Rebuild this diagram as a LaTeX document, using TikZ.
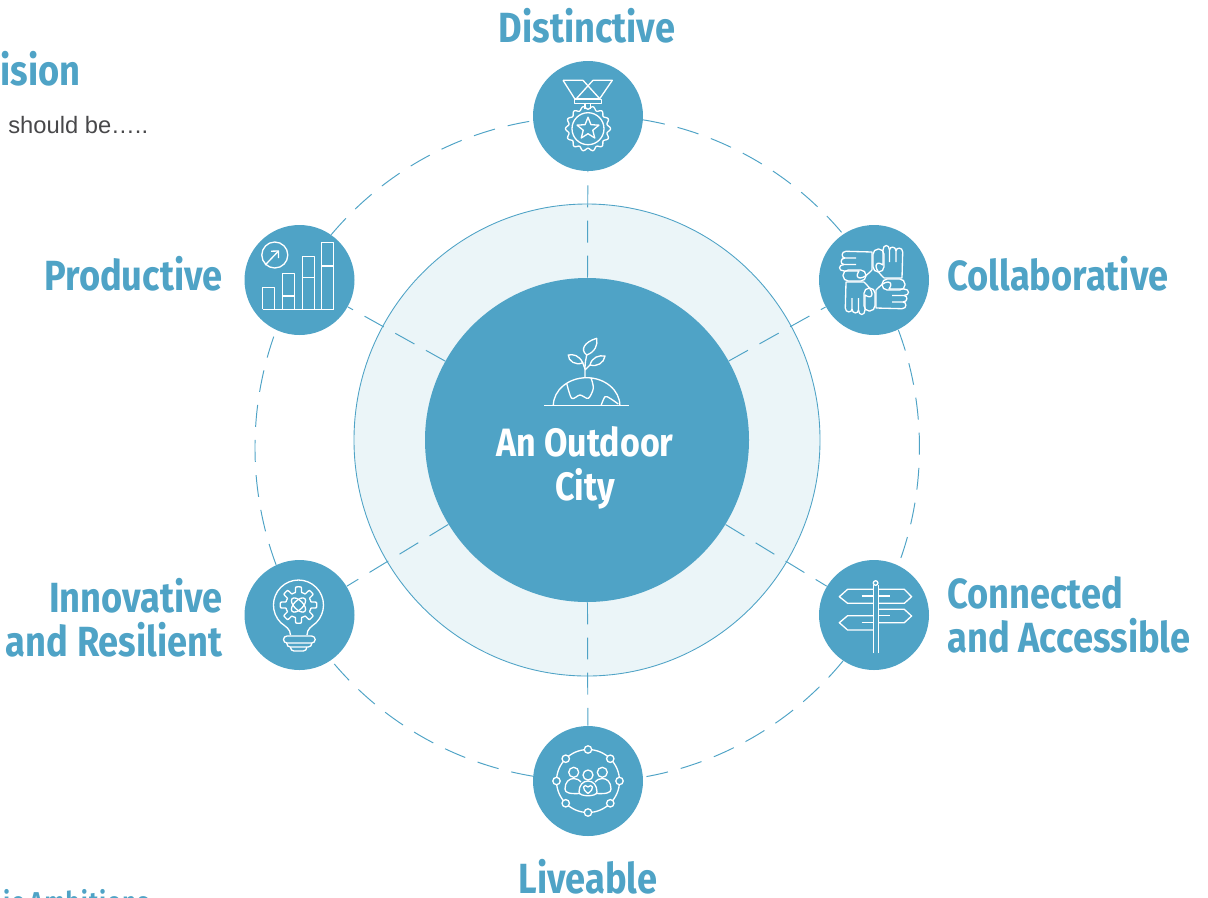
\documentclass[tikz,border=0pt]{standalone}
\usetikzlibrary{shapes.geometric}
\usepackage{fontspec}
\setmainfont{Liberation Sans}
\newfontfamily\lblfont[FakeStretch=0.86]{Fira Sans}
\newfontfamily\lblspaced[FakeStretch=0.86,LetterSpace=5]{Fira Sans}
\definecolor{teal}{HTML}{4FA3C6}
\definecolor{palering}{HTML}{EBF5F8}
\definecolor{bodytext}{HTML}{48484A}
\tikzset{
    circ/.style={circle, fill=teal, minimum size=22mm, inner sep=0pt},
    hubcirc/.style={circle, fill=teal, minimum size=64.8mm, inner sep=0pt},
    ringcirc/.style={ellipse, fill=palering, draw=teal, line width=0.5pt, minimum width=93.2mm, minimum height=94.4mm, inner sep=0pt},
    lnk/.style={teal, line width=0.55pt, dash pattern=on 12.5pt off 7.5pt},
    arcl/.style={lnk, bend left=20.5, looseness=0.879},
    lbl/.style={teal, inner sep=0pt, font=\lblfont\bfseries\fontsize{24}{25}\selectfont},
    ico/.style={white, line width=0.75pt, line join=round}
}
\newcommand{\handicon}{
        \draw[ico] (10,-2) .. controls (6,-6) and (2,-10) .. (2,-14) .. controls (2,-17) and (5,-18) .. (9,-15) -- (9,-30) .. controls (9,-36) and (15.5,-36) .. (15.5,-30) -- (15.5,-18);
        \draw[ico] (15.5,-30) .. controls (15.5,-34) and (22,-34) .. (22,-29) -- (22,-18);
        \draw[ico] (22,-29) .. controls (22,-33) and (28.7,-33) .. (28.7,-28) -- (28,-2) -- (10,-2);
        \draw[ico, rounded corners=3pt] (8,-1) -- (31,-1) -- (31,10) -- (8,10) -- cycle;
}
\begin{document}
\begin{tikzpicture}[x=0.2mm, y=-0.2mm]
        \useasboundingbox (0,0) rectangle (1208,897);
        \clip (0,0) rectangle (1208,897);
        \node[ringcirc] (outer) at (587,440) {};
        \node[hubcirc] (hub) at (587,440) {};
        \node[circ] (top) at (588,116) {};
        \node[circ] (ne) at (874,280) {};
        \node[circ] (se) at (874,615) {};
        \node[circ] (bot) at (588,781) {};
        \node[circ] (sw) at (299.5,615) {};
        \node[circ] (nw) at (299.5,280) {};
        \draw[arcl] (top.-4.75) to (ne.124.75);
        \draw[arcl] (ne.-64.75) to (se.64.75);
        \draw[arcl] (se.-124.75) to (bot.4.75);
        \draw[arcl] (bot.175.25) to (sw.-55.25);
        \draw[arcl] (sw.115.25) to (nw.-115.25);
        \draw[arcl] (nw.55.25) to (top.-175.25);
        \draw[lnk] (hub) -- (top);
        \draw[lnk] (hub) -- (ne);
        \draw[lnk] (hub) -- (se);
        \draw[lnk] (hub) -- (bot);
        \draw[lnk] (hub) -- (sw);
        \draw[lnk] (hub) -- (nw);
        \node[lbl] (ltop) at (587,26) {Distinctive};
        \node[lbl, anchor=east] (lnw) at (223,274) {Productive};
        \node[lbl, anchor=west] (lne) at (947,274) {Collaborative};
        \node[lbl, anchor=east, align=right] (lsw) at (223,618) {Innovative\\and Resilient};
        \node[lbl, anchor=west, align=left] (lse) at (947,615) {Connected\\and Accessible};
        \node[lbl] (lbot) at (588,877) {Liveable};
        \node[lbl, white, align=center, font=\lblfont\bfseries\fontsize{22.5}{25}\selectfont] (lhub) at (585,468) {An Outdoor\\City};
        \node[lbl, anchor=east] (lvision) at (81,69) {Vision};
        \node[anchor=west, inner sep=0pt, bodytext, font=\fontsize{13.5}{15}\selectfont] (lshould) at (8,125) {should be…..};
        \node[lbl, anchor=east, font=\lblspaced\bfseries\fontsize{15.5}{20}\selectfont] (lambit) at (149,901) {ic Ambitions};
        \begin{scope}[shift={(588,116)}]
        \draw[ico] (-25,-35.7) -- (-13.3,-17.3) -- (11.7,-17.3) -- (24.3,-35.7) -- (5,-35.7) -- (-11.7,-17.3);
        \draw[ico] (-25,-35.7) -- (-5,-35.7) -- (11.7,-17.3);
        \draw[ico] (-13.3,-16.3) rectangle (13.3,-12.3);
        \draw[ico] (-3,-12.3) -- (-3,-7);
        \draw[ico] (2.3,-12.3) -- (2.3,-7);
        \draw[ico] plot[domain=0:360, samples=193] ({(21+1.5*cos(14*\x))*cos(\x)},{12.7+(21+1.5*cos(14*\x))*sin(\x)}) -- cycle;
        \draw[ico] (0,12.7) circle (16);
        \draw[ico, shift={(0,12.7)}] (-90:11.5) -- (-54:5) -- (-18:11.5) -- (18:5) -- (54:11.5) -- (90:5) -- (126:11.5) -- (162:5) -- (198:11.5) -- (234:5) -- cycle;
        \end{scope}
        \begin{scope}[shift={(299.5,280)}]
        \draw[ico] (-37,29.3) -- (34.7,29.3);
        \draw[ico] (-36.7,29.3) -- (-36.7,7.7) -- (-25,7.7) -- (-25,29.3);
        \draw[ico] (-17,29.3) -- (-17,-6.3) -- (-5,-6.3) -- (-5,29.3);
        \draw[ico] (-17,16) -- (-5,16);
        \draw[ico] (2.7,29.3) -- (2.7,-23.7) -- (14.7,-23.7) -- (14.7,29.3);
        \draw[ico] (2.7,-2.3) -- (14.7,-2.3);
        \draw[ico] (22.3,29.3) -- (22.3,-37.7) -- (34.3,-37.7) -- (34.3,29.3);
        \draw[ico] (22.3,-14) -- (34.3,-14);
        \draw[ico] (-24.7,-25) circle (13);
        \draw[ico] (-34.3,-15) -- (-21,-29);
        \draw[ico] (-28.3,-28.8) -- (-21,-29) -- (-21,-22);
        \end{scope}
        \begin{scope}[shift={(874,280)}]
        \handicon
        \begin{scope}[rotate=90]
        \handicon
        \end{scope}
        \begin{scope}[rotate=180]
        \handicon
        \end{scope}
        \begin{scope}[rotate=270]
        \handicon
        \end{scope}
        \end{scope}
        \begin{scope}[shift={(299.5,615)}]
        \draw[ico] (-9,20) .. controls (-9,14) and (-14,11.5) .. (-18.7,7.7) arc[start angle=135, end angle=405, radius=25] .. controls (12,11.5) and (7.5,14) .. (7.5,20);
        \draw[ico, rounded corners=2pt] (-16,21) rectangle (15.7,28);
        \draw[ico, rounded corners=2pt] (-12.7,28) -- (-12.7,32) -- (12.3,32) -- (12.3,28);
        \draw[ico, rounded corners=2pt] (-9,32) -- (-9,36) -- (7.3,36) -- (7.3,32);
        \draw[ico] plot[domain=0:360, samples=193] ({-1+(15.5+2.7*max(-1,min(1,3*cos(8*\x))))*cos(\x)},{-10+(15.5+2.7*max(-1,min(1,3*cos(8*\x))))*sin(\x)}) -- cycle;
        \draw[ico, rotate around={45:(-1,-10)}] (-1,-10) ellipse [x radius=9, y radius=4.5];
        \draw[ico, rotate around={-45:(-1,-10)}] (-1,-10) ellipse [x radius=9, y radius=4.5];
        \end{scope}
        \begin{scope}[shift={(874.3,615)}]
        \draw[ico] (-1,-25.7) -- (-26.7,-25.7) -- (-35,-18.3) -- (-26.7,-11.7) -- (-1,-11.7);
        \draw[ico] (4,-25.7) -- (30,-25.7) -- (37.3,-18.3) -- (30,-11.7) -- (4,-11.7);
        \draw[ico] (-12.7,-19) -- (-1,-19);
        \draw[ico] (4,-19) -- (15.7,-19);
        \draw[ico] (4,-5.7) -- (30,-5.7) -- (37.3,1) -- (30,7.7) -- (4,7.7);
        \draw[ico] (4,0.7) -- (15.7,0.7);
        \draw[ico] (-1,0.7) -- (-26.7,0.7) -- (-35,7.7) -- (-26.7,15) -- (-1,15);
        \draw[ico] (-12.7,7.7) -- (-1,7.7);
        \draw[ico] (1.3,-32) circle (2.3);
        \draw[ico] (-1,38.3) -- (-1,-30);
        \draw[ico] (4,38.3) -- (4,-30);
        \end{scope}
        \begin{scope}[shift={(588,781)}]
        \draw[ico] (0,0) circle (31.5);
        \draw[ico, fill=teal] (0:31.5) circle (3.7);
        \draw[ico, fill=teal] (45:31.5) circle (3.7);
        \draw[ico, fill=teal] (90:31.5) circle (3.7);
        \draw[ico, fill=teal] (135:31.5) circle (3.7);
        \draw[ico, fill=teal] (180:31.5) circle (3.7);
        \draw[ico, fill=teal] (225:31.5) circle (3.7);
        \draw[ico, fill=teal] (270:31.5) circle (3.7);
        \draw[ico, fill=teal] (315:31.5) circle (3.7);
        \draw[ico] (-14.3,-8.7) circle (5);
        \draw[ico] (14.3,-8.7) circle (5);
        \draw[ico] (0,-6) circle (5);
        \draw[ico] (-8,12.5) .. controls (-18,13) and (-23,12) .. (-23,8) .. controls (-23,1) and (-19,-2.5) .. (-14.3,-2.5) .. controls (-11,-2.5) and (-8.5,-1) .. (-7,1);
        \draw[ico] (8,12.5) .. controls (18,13) and (23,12) .. (23,8) .. controls (23,1) and (19,-2.5) .. (14.3,-2.5) .. controls (11,-2.5) and (8.5,-1) .. (7,1);
        \draw[ico] (-9,11) .. controls (-9,4) and (-5,0) .. (0,0) .. controls (5,0) and (9,4) .. (9,11) .. controls (9,16) and (-9,16) .. (-9,11) -- cycle;
        \draw[ico] (0,12.5) .. controls (-3,10) and (-5,8) .. (-4.5,6) .. controls (-4,4) and (-1.5,4) .. (0,6) .. controls (1.5,4) and (4,4) .. (4.5,6) .. controls (5,8) and (3,10) .. (0,12.5) -- cycle;
        \end{scope}
        \begin{scope}[shift={(587,370)}]
        \draw[ico] (-43,35.7) -- (42.3,35.7);
        \draw[ico] (-33.7,35.7) arc[start angle=180, end angle=360, x radius=33.3, y radius=28];
        \draw[ico] plot[smooth] coordinates {(-20.3,13.3) (-15.3,28.3) (-7,25) (1.3,28.3) (6.3,18.3) (4,7.7)};
        \draw[ico] plot[smooth] coordinates {(14,35.7) (18,26.7) (23,28.3) (31.3,34)};
        \draw[ico] (-2,7.7) -- (-2,-2) .. controls (-2,-8) and (-1,-11) .. (-0.3,-15);
        \draw[ico] (-2,-1) -- (-4.3,-7.3);
        \draw[ico] (-2,0) -- (3,-5);
        \draw[ico] (-0.3,-15) .. controls (-7,-20) and (-3,-28) .. (9.7,-31.7) .. controls (11,-25) and (8,-18) .. (-0.3,-15) -- cycle;
        \draw[ico] (-4.3,-7.3) .. controls (-8,-15) and (-14,-16) .. (-18.7,-15) .. controls (-19,-9) and (-11,-4) .. (-4.3,-7.3) -- cycle;
        \draw[ico] (3,-5) .. controls (5,-13) and (12,-15) .. (18,-14) .. controls (17,-7) and (10,-3) .. (3,-5) -- cycle;
        \end{scope}
    \end{tikzpicture}
\end{document}
